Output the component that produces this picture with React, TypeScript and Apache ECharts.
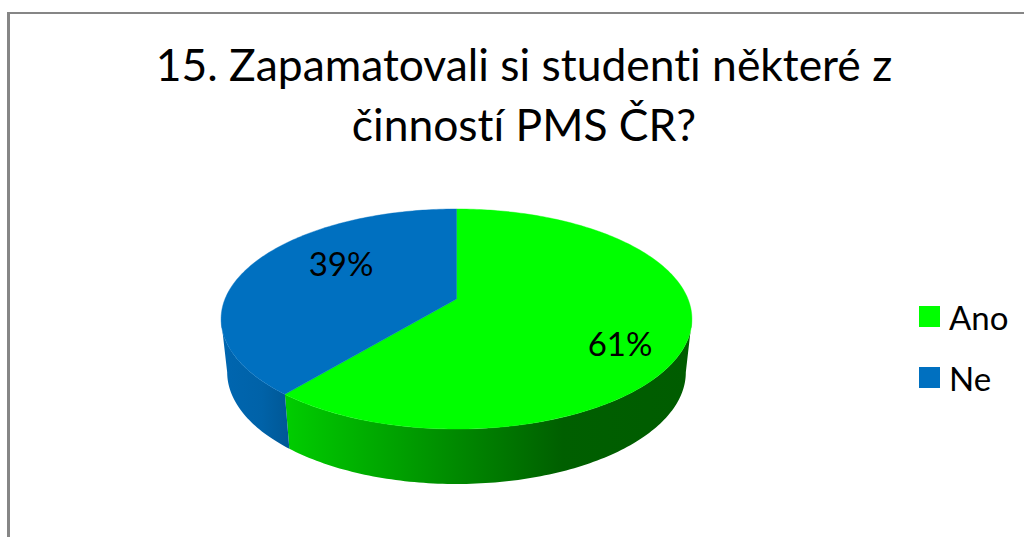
import React, { useEffect, useRef } from "react";
import * as echarts from "echarts";

const TITLE = "15. Zapamatovali si studenti některé z\nčinností PMS ČR?";
const CATEGORIES = ["Ano", "Ne"];
const VALUES = [61, 39];
const COLORS = ["#00FF00", "#0070C0"];
const WALL_STOPS = [
  [
    [0, "#00CC00"],
    [0.3, "#009C00"],
    [0.55, "#007400"],
    [0.68, "#005F00"],
    [1, "#005C00"],
  ],
  [
    [0, "#0066B0"],
    [0.6, "#0062A8"],
    [1, "#005896"],
  ],
];
const LABEL_POS = [
  [620, 343],
  [341, 263],
];

const CX = 456.5;
const K = 0.1818;
const TOP = { y0: 299, R: 231.5, H: 106.4 };
const BOTTOM = { y0: 352, R: 225.5, H: 108 };
const RAD = Math.PI / 180;
const TANGENT = [100.5, 259.5];

const project = (f: { y0: number; R: number; H: number }, deg: number, r = 1) => {
  const u = r * Math.sin(deg * RAD);
  const v = r * Math.cos(deg * RAD);
  const w = 1 / (1 + K * v);
  return [CX + f.R * u * w, f.y0 - f.H * v * w];
};

const rim = (f: any, a: number, b: number) => {
  const n = Math.max(2, Math.ceil(Math.abs(b - a)));
  const out: number[][] = [];
  for (let i = 0; i <= n; i++) out.push(project(f, a + ((b - a) * i) / n));
  return out;
};

const total = VALUES.reduce((s, v) => s + v, 0);

const makeRender = (index: number) => (_params: any, api: any) => {
  const before = VALUES.slice(0, index).reduce((s, v) => s + v, 0);
  const a0 = (before / total) * 360;
  const a1 = a0 + (api.value(0) / total) * 360;
  const wa = Math.max(a0, TANGENT[0]);
  const wb = Math.min(a1, TANGENT[1]);
  const wall = [...rim(TOP, wa, wb), ...rim(BOTTOM, wb, wa)];
  const grad = {
    type: "linear",
    global: true,
    x: index === 0 ? 288 : 222,
    y: 0,
    x2: index === 0 ? 692 : 288,
    y2: 0,
    colorStops: WALL_STOPS[index].map(([offset, color]) => ({ offset, color })),
  };
  const face = [project(TOP, 0, 0), ...rim(TOP, a0, a1)];
  return {
    type: "group",
    children: [
      { type: "polygon", shape: { points: wall }, style: { fill: grad, stroke: null } },
      {
        type: "polygon",
        shape: { points: face },
        style: { fill: COLORS[index], stroke: COLORS[index], lineWidth: 0.4 },
      },
      {
        type: "text",
        x: LABEL_POS[index][0],
        y: LABEL_POS[index][1],
        style: {
          text: `${Math.round((api.value(0) / total) * 100)}%`,
          fill: "#000",
          fontSize: 33,
          fontFamily: "Lato",
          align: "center",
          verticalAlign: "middle",
        },
      },
    ],
  };
};

export default function App() {
  const ref = useRef<HTMLDivElement>(null);
  useEffect(() => {
    document.body.style.margin = "0";
    const chart = echarts.init(ref.current!, null, { renderer: "svg" });
    chart.setOption({
      animation: false,
      backgroundColor: "#fff",
      title: {
        text: TITLE,
        left: 519,
        top: 28,
        textAlign: "center",
        textStyle: {
          fontFamily: "Lato",
          fontWeight: "normal",
          fontSize: 44.4,
          lineHeight: 60,
          color: "#000",
        },
      },
      legend: {
        left: 919,
        top: 300,
        orient: "vertical",
        icon: "rect",
        itemWidth: 21,
        itemHeight: 21,
        itemGap: 28,
        data: CATEGORIES,
        textStyle: { fontFamily: "Lato", fontSize: 33, color: "#000", lineHeight: 21, padding: [0, 0, 4, 4] },
        padding: 0,
        selectedMode: false,
      },
      xAxis: { show: false, min: 0, max: 1 },
      yAxis: { show: false, min: 0, max: 1 },
      grid: { left: 0, right: 0, top: 0, bottom: 0 },
      graphic: [
        { type: "rect", silent: true, shape: { x: 7, y: 12, width: 1017, height: 2 }, style: { fill: "#868686" } },
        { type: "rect", silent: true, shape: { x: 7, y: 12, width: 3, height: 525 }, style: { fill: "#868686" } },
      ],
      series: CATEGORIES.map((name, i) => ({
        type: "custom",
        name,
        itemStyle: { color: COLORS[i] },
        coordinateSystem: "none",
        renderItem: makeRender(i),
        encode: { value: 0 },
        data: [[VALUES[i]]],
      })),
    });
    return () => chart.dispose();
  }, []);
  return <div ref={ref} style={{ width: 1024, height: 537, fontVariantLigatures: "none" }} />;
}
